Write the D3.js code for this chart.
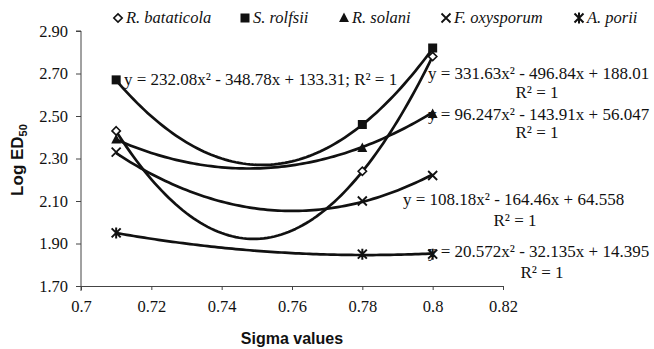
<!DOCTYPE html>
<html>
<head>
<meta charset="utf-8">
<script src="https://cdn.jsdelivr.net/npm/d3@7"></script>
<style>
  body { margin: 0; background: #fff; }
  svg { display: block; }
  .serif { font-family: "Liberation Serif", "Times New Roman", serif; }
  .sans { font-family: "Liberation Sans", Arial, sans-serif; font-weight: bold; }
</style>
</head>
<body>
<svg id="chart" width="654" height="349"></svg>
<script>
// data
var sigma = [0.71, 0.78, 0.8];
var seriesNames = ["R. bataticola", "S. rolfsii", "R. solani", "F. oxysporum", "A. porii"];
var bataticola = [2.43, 2.24, 2.78];
var rolfsii = [2.67, 2.46, 2.82];
var solani = [2.39, 2.35, 2.51];
var oxysporum = [2.33, 2.10, 2.22];
var porii = [1.95, 1.85, 1.85];
// trendline coefficients as printed (a, b, c of y = ax^2 - bx + c)
var coefA = [331.63, 232.08, 96.247, 108.18, 20.572];
var coefB = [496.84, 348.78, 143.91, 164.46, 32.135];
var coefC = [188.01, 133.31, 56.047, 64.558, 14.395];
var xTicks = [0.7, 0.72, 0.74, 0.76, 0.78, 0.8, 0.82];
var yTicks = [1.7, 1.9, 2.1, 2.3, 2.5, 2.7, 2.9];

var values = [bataticola, rolfsii, solani, oxysporum, porii];
var markers = ["diamond", "square", "triangle", "cross", "star"];

var svg = d3.select("#chart");
var x = d3.scaleLinear().domain([0.7, 0.82]).range([81, 503]);
var y = d3.scaleLinear().domain([1.7, 2.9]).range([286, 31]);

// axes
var xAxis = svg.append("g").attr("transform", "translate(0,286)")
    .call(d3.axisBottom(x).tickValues(xTicks).tickSize(4).tickPadding(10)
        .tickFormat(function(d) { return String(+d.toFixed(2)); }));
var yAxis = svg.append("g").attr("transform", "translate(81,0)")
    .call(d3.axisLeft(y).tickValues(yTicks).tickSize(5).tickPadding(8)
        .tickFormat(d3.format(".2f")));
[xAxis, yAxis].forEach(function(g) {
    g.attr("font-family", null).attr("font-size", null);
    g.select(".domain").attr("stroke", "#444").attr("stroke-width", 1);
    g.selectAll(".tick line").attr("stroke", "#444");
    g.selectAll("text").attr("class", "serif").attr("fill", "#111").style("font-size", "16.5px");
});
yAxis.select(".domain").attr("d", "M-5,31H0V291");

// axis titles
svg.append("text").attr("class", "sans").attr("x", 292).attr("y", 344).attr("text-anchor", "middle")
    .style("font-size", "16px").attr("fill", "#111").text("Sigma values");
var yt = svg.append("text").attr("class", "sans").attr("transform", "translate(23,160) rotate(-90)")
    .attr("text-anchor", "middle").style("font-size", "17px").attr("fill", "#111");
yt.append("tspan").text("Log ED");
yt.append("tspan").attr("dy", 4).style("font-size", "11px").text("50");

// polynomial trendlines
var line = d3.line().x(function(d) { return x(d[0]); }).y(function(d) { return y(d[1]); });
values.forEach(function(v, i) {
    var pts = d3.range(0, 91).map(function(k) {
        var s = 0.71 + k * 0.001;
        return [s, coefA[i] * s * s - coefB[i] * s + coefC[i]];
    });
    svg.append("path").datum(pts).attr("d", line)
        .attr("fill", "none").attr("stroke", "#111").attr("stroke-width", 2.7)
        .attr("stroke-linejoin", "round");
});

function drawMarker(g, type, cx, cy, s) {
    if (type == "diamond") {
        g.append("path").attr("d", d3.symbol(d3.symbolDiamond2, s * s * 0.55)())
            .attr("transform", "translate(" + cx + "," + cy + ")")
            .attr("fill", "#fff").attr("stroke", "#111").attr("stroke-width", 1.6);
    } else if (type == "square") {
        g.append("rect").attr("x", cx - s / 2).attr("y", cy - s / 2)
            .attr("width", s).attr("height", s).attr("fill", "#111");
    } else if (type == "triangle") {
        g.append("path").attr("d", "M" + cx + "," + (cy - s * 0.6) + "L" + (cx + s * 0.55) + "," + (cy + s * 0.45)
            + "L" + (cx - s * 0.55) + "," + (cy + s * 0.45) + "Z").attr("fill", "#111");
    } else if (type == "cross") {
        var h = s / 2;
        g.append("path").attr("d", "M" + (cx - h) + "," + (cy - h) + "L" + (cx + h) + "," + (cy + h)
            + "M" + (cx + h) + "," + (cy - h) + "L" + (cx - h) + "," + (cy + h))
            .attr("stroke", "#111").attr("stroke-width", 1.8);
    } else {
        var h = s / 2;
        g.append("path").attr("d", "M" + (cx - h) + "," + (cy - h) + "L" + (cx + h) + "," + (cy + h)
            + "M" + (cx + h) + "," + (cy - h) + "L" + (cx - h) + "," + (cy + h)
            + "M" + cx + "," + (cy - h - 1) + "L" + cx + "," + (cy + h + 1))
            .attr("stroke", "#111").attr("stroke-width", 2);
    }
}

// data markers
var mk = svg.append("g");
values.forEach(function(v, i) {
    v.forEach(function(val, j) {
        drawMarker(mk, markers[i], x(sigma[j]), y(val), 9);
    });
});

// equation labels
var eqPos = [[428, 79, 537, 98], [124, 85, null, null], [428, 120, 537, 138], [403, 205, 515, 226], [428, 257, 542, 278]];
values.forEach(function(v, i) {
    var eq = "y = " + coefA[i] + "x² - " + coefB[i] + "x + " + coefC[i];
    var p = eqPos[i];
    svg.append("text").attr("class", "serif").attr("x", p[0]).attr("y", p[1])
        .style("font-size", "17px").attr("fill", "#111")
        .text(p[2] == null ? eq + "; R² = 1" : eq);
    if (p[2] != null) {
        svg.append("text").attr("class", "serif").attr("x", p[2]).attr("y", p[3]).attr("text-anchor", "middle")
            .style("font-size", "17px").attr("fill", "#111").text("R² = 1");
    }
});
// markers sit on top of the labels
mk.raise();

// legend
var legX = [118, 245, 344, 446, 579];
seriesNames.forEach(function(n, i) {
    drawMarker(svg, markers[i], legX[i], 18, 9);
    svg.append("text").attr("class", "serif").attr("x", legX[i] + 8).attr("y", 23)
        .style("font-style", "italic").style("font-size", "16.5px")
        .attr("fill", "#111").text(n);
});
</script>
</body>
</html>
